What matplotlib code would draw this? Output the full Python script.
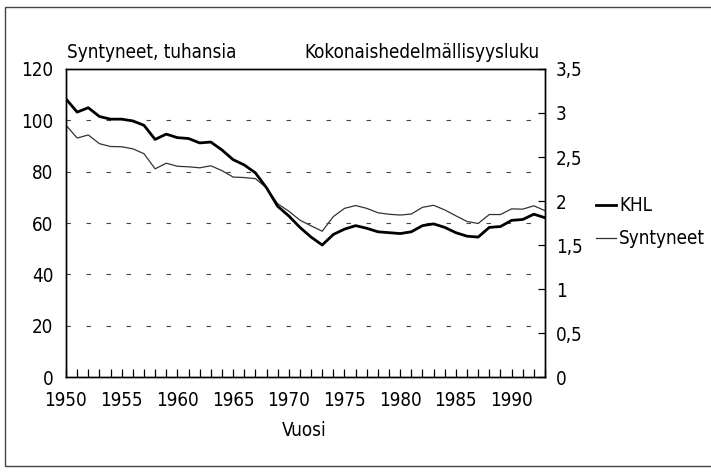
import matplotlib
matplotlib.use("Agg")
import matplotlib.pyplot as plt
from matplotlib import font_manager
from matplotlib.patches import Rectangle
from matplotlib.ticker import MultipleLocator, FuncFormatter

# kapea fontti jos löytyy, muuten tavallinen DejaVu pienempänä
FAM, STRETCH, FS = "DejaVu Sans", "normal", 12
for fam in ("Liberation Sans Narrow", "DejaVu Sans"):
    try:
        path = font_manager.findfont(font_manager.FontProperties(family=fam, stretch="condensed"),
                                     fallback_to_default=False)
    except ValueError:
        continue
    if "Narrow" in path or "Condensed" in path:
        FAM, STRETCH, FS = fam, "condensed", 13.5
        break
plt.rcParams["font.family"] = [FAM, "DejaVu Sans"]
plt.rcParams["font.stretch"] = STRETCH

# vuodet 1950-1993
years = list(range(1950, 1994))
# kokonaishedelmällisyysluku (oikea akseli)
khl = [3.16, 3.01, 3.06, 2.96, 2.93, 2.93, 2.91, 2.86, 2.70, 2.76,
       2.72, 2.71, 2.66, 2.67, 2.58, 2.47, 2.41, 2.32, 2.15, 1.94,
       1.83, 1.70, 1.59, 1.50, 1.62, 1.68, 1.72, 1.69, 1.65, 1.64,
       1.63, 1.65, 1.72, 1.74, 1.70, 1.64, 1.60, 1.59, 1.70, 1.71,
       1.78, 1.79, 1.85, 1.81]
# syntyneet, tuhansia (vasen akseli)
births = [98.1, 93.1, 94.3, 90.9, 89.8, 89.7, 88.9, 87.0, 81.1, 83.3,
          82.1, 81.9, 81.5, 82.3, 80.4, 77.9, 77.7, 77.3, 73.7, 67.5,
          64.6, 61.1, 58.9, 56.8, 62.5, 65.7, 66.8, 65.7, 64.0, 63.4,
          63.1, 63.5, 66.1, 66.9, 65.1, 62.8, 60.6, 59.8, 63.3, 63.3,
          65.5, 65.4, 66.7, 64.8]
left_ticks = [0, 20, 40, 60, 80, 100, 120]
right_ticks = [0, 0.5, 1, 1.5, 2, 2.5, 3, 3.5]

W, H = 711, 473
fig = plt.figure(figsize=(W / 100, H / 100), dpi=100)
fig.patches.append(Rectangle((5 / W, 7 / H), 720 / W, 459 / H, transform=fig.transFigure,
                             fill=False, edgecolor="#444444", lw=1.0))

ax = fig.add_axes([66 / W, 1 - 377 / H, 479 / W, 308 / H])
ax2 = ax.twinx()

ax.plot(years, births, color="#333333", lw=0.9)
ax2.plot(years, khl, color="black", lw=2.0)

ax.set_xlim(1950, 1993)
ax.set_ylim(0, 120)
ax2.set_ylim(0, 3.5)

ax.set_yticks(left_ticks)
ax.tick_params(axis="y", length=0, labelsize=FS, pad=9)
ax.xaxis.set_major_locator(MultipleLocator(5))
ax.xaxis.set_minor_locator(MultipleLocator(1))
ax.tick_params(axis="x", which="both", direction="in", length=6, width=0.9, labelsize=FS, pad=10)

ax2.set_yticks(right_ticks)
ax2.yaxis.set_major_formatter(FuncFormatter(lambda v, p: f"{v:g}".replace(".", ",")))
ax2.tick_params(axis="y", direction="in", length=5, width=0.9, labelsize=FS, pad=8)

for g in left_ticks[1:-1]:
    ax.axhline(g, color="#444444", lw=0.8, dashes=(4, 14), dash_capstyle="butt")

for a in (ax, ax2):
    for s in a.spines.values():
        s.set_linewidth(1.0)
        s.set_color("black")

fig.text(67 / W, 1 - 52 / H, "Syntyneet, tuhansia", fontsize=FS, va="center", ha="left")
fig.text(540 / W, 1 - 52 / H, "Kokonaishedelmällisyysluku", fontsize=FS, va="center", ha="right")
fig.text(304 / W, 1 - 430 / H, "Vuosi", fontsize=FS, va="center", ha="center")

# selite
fig.lines.append(plt.Line2D([596 / W, 616 / W], [1 - 205 / H] * 2, transform=fig.transFigure,
                            color="black", lw=2.0))
fig.lines.append(plt.Line2D([596 / W, 616 / W], [1 - 238 / H] * 2, transform=fig.transFigure,
                            color="#333333", lw=0.9))
fig.text(619 / W, 1 - 205 / H, "KHL", fontsize=FS, va="center", ha="left")
fig.text(619 / W, 1 - 238 / H, "Syntyneet", fontsize=FS, va="center", ha="left")

fig.savefig("out.png", dpi=100, facecolor="white")
